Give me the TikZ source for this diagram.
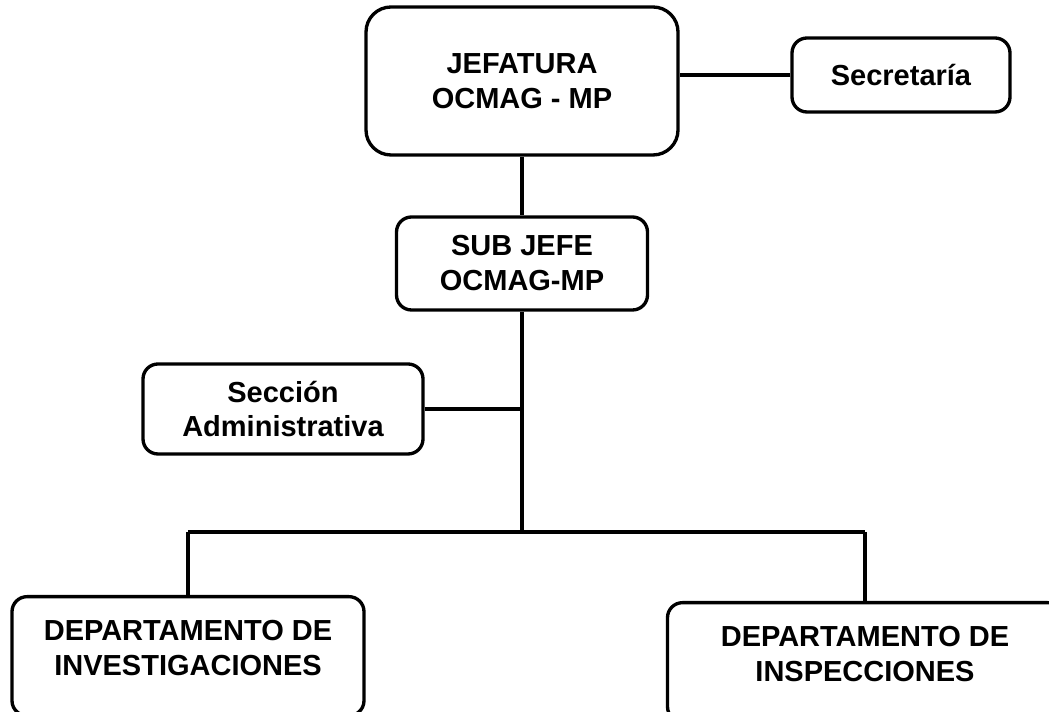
\documentclass[tikz,border=0pt]{standalone}
\usepackage{fontspec}
\setmainfont{Liberation Sans}
\begin{document}
\begin{tikzpicture}[
  orgbox/.style={draw, line width=1.9pt, rounded corners=0.3cm, align=center, inner sep=0pt, font=\bfseries\fontsize{16.5}{19.9}\selectfont},
  link/.style={line width=1.9pt}
]
\useasboundingbox (0,0) rectangle (20.98,-14.24);

% upper levels
\node[orgbox, rounded corners=0.5cm, minimum width=6.24cm, minimum height=2.96cm] (jef) at (10.44,-1.62) {JEFATURA\\OCMAG - MP};
\node[orgbox, minimum width=4.36cm, minimum height=1.48cm] (sec) at (18.02,-1.50) {Secretaría};
\node[orgbox, minimum width=5.02cm, minimum height=1.86cm] (sub) at (10.44,-5.27) {SUB JEFE\\OCMAG-MP};
\node[orgbox, minimum width=5.6cm, minimum height=1.8cm] (adm) at (5.66,-8.18) {Sección\\Administrativa};

% departments
\node[orgbox, minimum width=7.04cm, text height=1.58cm, text depth=0.8cm, anchor=north] (dinv) at (3.76,-11.9) {DEPARTAMENTO DE\\INVESTIGACIONES};
\node[orgbox, minimum width=7.9cm, text height=1.58cm, text depth=0.8cm, anchor=north] (dins) at (17.3,-12.02) {DEPARTAMENTO DE\\INSPECCIONES};

\coordinate (bus) at (10.44,-10.64);

\draw[link] (jef) -- (sub);
\draw[link] (sec.west) -- (sec.west -| jef.east);
\draw[link] (sub.south) -- (bus);
\draw[link] (adm.east) -- (adm.east -| sub.south);
\draw[line width=2.4pt] (dinv.north |- bus) -- (dins.north |- bus);
\draw[link] (dinv.north) -- (dinv.north |- bus);
\draw[link] (dins.north) -- (dins.north |- bus);

\end{tikzpicture}
\end{document}
